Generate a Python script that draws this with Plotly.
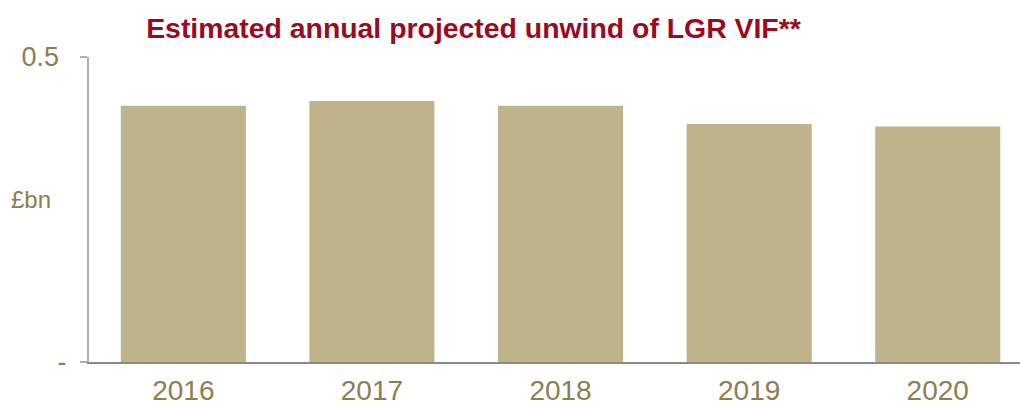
import plotly.graph_objects as go

# Estimated annual projected unwind of LGR VIF (£bn)
years = ["2016", "2017", "2018", "2019", "2020"]
unwind_bn = [0.42, 0.428, 0.42, 0.39, 0.386]

y_tickvals = [0, 0.5]
y_ticktext = ["-", "0.5\u00a0"]

BAR = "#BFB38A"
LABEL = "#8C7E4E"
TITLE = "#9B0A1E"
FONT = "Liberation Sans, Arial, sans-serif"

W, H = 1020, 407
ML, MR, MT, MB = 89, 0, 57, 45

fig = go.Figure(
    go.Bar(
        x=years,
        y=unwind_bn,
        marker=dict(color=BAR, line=dict(width=0)),
        hoverinfo="x+y",
    )
)

fig.update_layout(
    width=W,
    height=H,
    margin=dict(l=ML, r=MR, t=MT, b=MB, autoexpand=False),
    paper_bgcolor="white",
    plot_bgcolor="white",
    bargap=0.337,
    showlegend=False,
    font=dict(family=FONT, color=LABEL),
    title=dict(
        text="<b>Estimated annual projected unwind of LGR VIF**</b>",
        font=dict(family=FONT, size=28.4, color=TITLE),
        x=473.5 / W,
        xanchor="center",
        y=1 - 28 / H,
        yanchor="middle",
    ),
    annotations=[
        dict(
            text="£bn",
            xref="paper",
            yref="paper",
            x=(31 - ML) / (W - ML - MR),
            y=0.534,
            xanchor="center",
            yanchor="middle",
            showarrow=False,
            font=dict(family=FONT, size=24, color=LABEL),
        )
    ],
)

fig.update_xaxes(
    type="category",
    range=[-0.5, 4.436],
    automargin=False,
    showgrid=False,
    showline=True,
    linecolor="#8A8A8A",
    linewidth=2,
    ticks="",
    ticklabelstandoff=2,
    tickfont=dict(family=FONT, size=28, color=LABEL),
    fixedrange=True,
)

fig.update_yaxes(
    range=[0, 0.5],
    automargin=False,
    tickvals=y_tickvals,
    ticktext=y_ticktext,
    showgrid=False,
    zeroline=False,
    showline=True,
    linecolor="#A9B0B8",
    linewidth=2,
    ticks="outside",
    ticklen=7,
    tickcolor="#A9B0B8",
    tickwidth=2,
    ticklabelstandoff=8,
    tickfont=dict(family=FONT, size=27, color=LABEL),
    fixedrange=True,
)

fig.write_html("out.html")
